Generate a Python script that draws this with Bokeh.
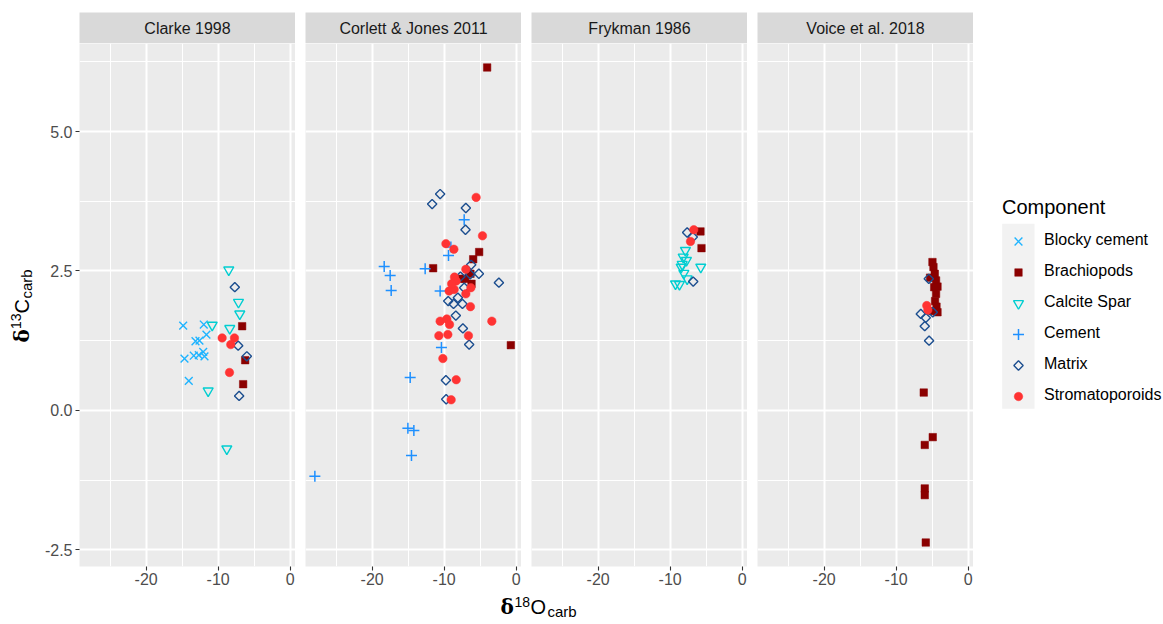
import numpy as np
from bokeh.plotting import figure
from bokeh.layouts import row, column
from bokeh.models import (Range1d, FixedTicker, Legend, LegendItem,
                          PrintfTickFormatter)
from bokeh.core.properties import value
from bokeh.embed import file_html
from bokeh.resources import INLINE

FONT = "Liberation Sans"

STUDIES = ["Clarke 1998", "Corlett & Jones 2011", "Frykman 1986", "Voice et al. 2018"]
COMPONENTS = ["Blocky cement", "Brachiopods", "Calcite Spar", "Cement", "Matrix", "Stromatoporoids"]

X_TICKS = [-20, -10, 0]
X_MINOR = [-25, -15, -5]
Y_TICKS = [-2.5, 0.0, 2.5, 5.0]
Y_MINOR = [-1.25, 1.25, 3.75, 6.25]

# ---- Clarke 1998 ----
clarke_blocky_o = [-14.86, -12.0, -11.63, -13.15, -12.6, -14.68, -13.39, -12.08, -12.69, -11.9, -14.08]
clarke_blocky_c = [1.52, 1.54, 1.36, 1.24, 1.25, 0.93, 0.98, 1.05, 0.99, 0.97, 0.53]
clarke_brach_o = [-6.67, -6.25, -6.53]
clarke_brach_c = [1.51, 0.90, 0.47]
clarke_spar_o = [-8.53, -7.18, -7.0, -10.83, -8.39, -11.39, -8.8]
clarke_spar_c = [2.52, 1.94, 1.73, 1.53, 1.47, 0.35, -0.69]
clarke_matrix_o = [-7.69, -7.22, -6.02, -7.09]
clarke_matrix_c = [2.21, 1.16, 0.97, 0.26]
clarke_strom_o = [-9.45, -7.74, -8.25, -8.43]
clarke_strom_c = [1.30, 1.30, 1.18, 0.68]

# ---- Corlett & Jones 2011 ----
corlett_brach_o = [-4.03, -5.14, -5.97, -11.53, -7.54, -6.2, -7.08, -6.35, -0.74]
corlett_brach_c = [6.15, 2.84, 2.71, 2.55, 2.36, 2.27, 2.36, 2.45, 1.17]
corlett_cement_o = [-7.22, -9.07, -9.4, -18.33, -17.5, -17.36, -12.64, -10.56, -10.38, -14.72, -15.04, -14.21, -14.54, -27.96]
corlett_cement_c = [3.42, 2.93, 2.78, 2.58, 2.42, 2.15, 2.54, 2.14, 1.13, 0.59, -0.32, -0.36, -0.81, -1.18]
corlett_matrix_o = [-10.56, -11.67, -6.99, -7.04, -6.25, -7.74, -6.39, -5.18, -2.4, -7.22, -8.1, -9.44, -8.7, -7.46, -8.38, -7.4, -6.53, -9.76, -9.72]
corlett_matrix_c = [3.88, 3.70, 3.63, 3.24, 2.61, 2.40, 2.44, 2.45, 2.29, 2.20, 2.02, 1.96, 1.91, 1.91, 1.70, 1.47, 1.18, 0.54, 0.20]
corlett_strom_o = [-5.56, -4.68, -9.76, -8.65, -6.99, -8.57, -8.33, -9.31, -8.61, -6.99, -6.29, -6.35, -10.56, -9.63, -9.26, -3.38, -10.74, -9.49, -6.63, -10.18, -8.33, -9.03, -8.96]
corlett_strom_c = [3.82, 3.13, 2.99, 2.89, 2.53, 2.39, 2.32, 2.14, 2.17, 2.09, 2.20, 1.86, 1.60, 1.64, 1.54, 1.60, 1.34, 1.36, 1.34, 0.93, 0.55, 0.19, 2.27]

# ---- Frykman 1986 ----
frykman_brach_o = [-5.79, -5.65]
frykman_brach_c = [3.21, 2.91]
frykman_spar_o = [-7.88, -8.19, -7.74, -8.33, -5.75, -8.1, -7.64, -9.26, -8.71, -8.47]
frykman_spar_c = [2.87, 2.75, 2.69, 2.62, 2.57, 2.46, 2.36, 2.27, 2.26, 2.57]
frykman_matrix_o = [-7.64, -6.86, -6.8]
frykman_matrix_c = [3.19, 3.11, 2.31]
frykman_strom_o = [-6.72, -7.18]
frykman_strom_c = [3.24, 3.03]

# ---- Voice et al. 2018 ----
voice_brach_o = [-4.96, -4.82, -4.64, -5.29, -4.46, -4.26, -4.72, -4.46, -4.6, -4.4, -4.26, -4.96, -6.17, -4.92, -6.03, -6.03, -6.03, -5.89]
voice_brach_c = [2.66, 2.57, 2.45, 2.38, 2.33, 2.22, 2.21, 2.09, 1.96, 1.86, 1.76, 1.78, 0.32, -0.48, -0.62, -1.40, -1.52, -2.37]
voice_matrix_o = [-5.47, -4.92, -6.58, -5.89, -6.03, -5.43]
voice_matrix_c = [2.36, 1.76, 1.73, 1.66, 1.51, 1.25]
voice_strom_o = [-5.75, -5.6]
voice_strom_c = [1.88, 1.80]

DATA = {
    "Clarke 1998": {
        "Blocky cement": (clarke_blocky_o, clarke_blocky_c),
        "Brachiopods": (clarke_brach_o, clarke_brach_c),
        "Calcite Spar": (clarke_spar_o, clarke_spar_c),
        "Matrix": (clarke_matrix_o, clarke_matrix_c),
        "Stromatoporoids": (clarke_strom_o, clarke_strom_c),
    },
    "Corlett & Jones 2011": {
        "Brachiopods": (corlett_brach_o, corlett_brach_c),
        "Cement": (corlett_cement_o, corlett_cement_c),
        "Matrix": (corlett_matrix_o, corlett_matrix_c),
        "Stromatoporoids": (corlett_strom_o, corlett_strom_c),
    },
    "Frykman 1986": {
        "Brachiopods": (frykman_brach_o, frykman_brach_c),
        "Calcite Spar": (frykman_spar_o, frykman_spar_c),
        "Matrix": (frykman_matrix_o, frykman_matrix_c),
        "Stromatoporoids": (frykman_strom_o, frykman_strom_c),
    },
    "Voice et al. 2018": {
        "Brachiopods": (voice_brach_o, voice_brach_c),
        "Matrix": (voice_matrix_o, voice_matrix_c),
        "Stromatoporoids": (voice_strom_o, voice_strom_c),
    },
}

STYLE = {
    "Blocky cement": dict(marker="x", size=11, line_color="#1FB4FF", line_width=1.4),
    "Brachiopods": dict(marker="square", size=7.5, fill_color="#8B0000", line_color="#8B0000", line_width=0.5),
    "Calcite Spar": dict(marker="inverted_triangle", size=10, fill_color=None, line_color="#00CED1", line_width=1.4),
    "Cement": dict(marker="cross", size=11, line_color="#1E90FF", line_width=1.5),
    "Matrix": dict(marker="square", angle=np.pi / 4, size=6.6, fill_color=None, line_color="#1C4E8F", line_width=1.4),
    "Stromatoporoids": dict(marker="circle", size=8.5, fill_color="#FF3333", line_color="#FF3333", line_width=0.5),
}

X_RANGE = (-29.26, 0.74)
Y_RANGE = (-2.80, 6.58)
FRAME_W, FRAME_H = 216, 523
GAP = 10


def style_axis_grid(p, with_y):
    p.xaxis.ticker = FixedTicker(ticks=X_TICKS, minor_ticks=X_MINOR)
    p.xgrid.ticker = FixedTicker(ticks=X_TICKS, minor_ticks=X_MINOR)
    p.ygrid.ticker = FixedTicker(ticks=Y_TICKS, minor_ticks=Y_MINOR)
    p.xaxis.formatter = PrintfTickFormatter(format="%d")
    axes = [p.xaxis[0]]
    if with_y:
        p.yaxis.ticker = FixedTicker(ticks=Y_TICKS, minor_ticks=Y_MINOR)
        p.yaxis.formatter = PrintfTickFormatter(format="%.1f")
        axes.append(p.yaxis[0])
    for ax in axes:
        ax.axis_line_color = None
        ax.major_tick_line_color = "#333333"
        ax.major_tick_line_width = 1.1
        ax.major_tick_out = 4
        ax.major_tick_in = 0
        ax.minor_tick_line_color = None
        ax.major_label_text_font = FONT
        ax.major_label_text_font_size = "16px"
        ax.major_label_text_color = "#4D4D4D"
        ax.major_label_standoff = 2
    if with_y:
        p.yaxis.major_label_standoff = 3
    for g in (p.xgrid[0], p.ygrid[0]):
        g.grid_line_color = "white"
        g.grid_line_width = 2
        g.minor_grid_line_color = "white"
        g.minor_grid_line_width = 1


columns = []
for i, study in enumerate(STUDIES):
    lb = 39 if i == 0 else GAP
    strip = figure(frame_width=FRAME_W, frame_height=31, x_range=Range1d(0, 1), y_range=Range1d(0, 1),
                   x_axis_type=None, y_axis_type=None, toolbar_location=None, output_backend="svg",
                   min_border_left=lb, min_border_right=0, min_border_top=12, min_border_bottom=0,
                   background_fill_color="#D9D9D9", border_fill_color="white")
    strip.outline_line_color = None
    strip.text(x=[0.5], y=[0.5], text=[study], text_align="center", text_baseline="middle",
               text_font=value(FONT), text_font_size="16px", text_color="#1A1A1A")

    p = figure(frame_width=FRAME_W, frame_height=FRAME_H,
               x_range=Range1d(*X_RANGE), y_range=Range1d(*Y_RANGE),
               y_axis_location="left" if i == 0 else None,
               toolbar_location=None, output_backend="svg",
               min_border_left=lb, min_border_right=0, min_border_top=0, min_border_bottom=25,
               background_fill_color="#EBEBEB", border_fill_color="white")
    p.outline_line_color = None
    style_axis_grid(p, i == 0)
    for comp in COMPONENTS:
        if comp in DATA[study]:
            xs, ys = DATA[study][comp]
            p.scatter(x=xs, y=ys, **STYLE[comp])
    columns.append(column(strip, p))

# y-axis title figure (coordinates = page pixels), text anchored at its middle line
ylab = figure(width=40, height=591, x_range=Range1d(0, 40), y_range=Range1d(591, 0),
              x_axis_type=None, y_axis_type=None, toolbar_location=None, output_backend="svg",
              min_border=0, border_fill_color="white", background_fill_color="white")
ylab.outline_line_color = None
ylab.text(x=[21.1], y=[342], text=["δ"], angle=np.pi / 2, text_font=value("DejaVu Serif"),
          text_font_style="bold", text_font_size="20px", text_baseline="middle", text_color="black")
ylab.text(x=[15.2], y=[328.5], text=["13"], angle=np.pi / 2, text_font=value(FONT),
          text_font_size="14px", text_baseline="middle", text_color="black")
ylab.text(x=[21.1], y=[313], text=["C"], angle=np.pi / 2, text_font=value(FONT),
          text_font_size="20px", text_baseline="middle", text_color="black")
ylab.text(x=[26.3], y=[298], text=["carb"], angle=np.pi / 2, text_font=value(FONT),
          text_font_size="15px", text_baseline="middle", text_color="black")

# legend figure (coordinates = page pixels)
LEGEND_KEY_X = 1018
LEGEND_KEY_Y = [241, 272, 303, 334, 365, 396]
leg = figure(width=190, height=591, x_range=Range1d(973, 1163), y_range=Range1d(591, 0),
             x_axis_type=None, y_axis_type=None, toolbar_location=None, output_backend="svg",
             min_border=0, border_fill_color="white", background_fill_color="white")
leg.outline_line_color = None
leg.quad(left=[1001.7], right=[1034], top=[223.3], bottom=[408.3], fill_color="#F2F2F2", line_color=None)
items = []
for comp, ky in zip(COMPONENTS, LEGEND_KEY_Y):
    r = leg.scatter(x=[LEGEND_KEY_X], y=[ky], **STYLE[comp])
    items.append(LegendItem(label=comp, renderers=[r]))
# glyph_height=0: the legend draws only labels; the keys above are drawn at full size
legend = Legend(items=items, location=(29, 187), title="Component",
                title_text_font=FONT, title_text_font_size="20px", title_text_color="black",
                title_text_font_style="normal", title_standoff=12,
                label_text_font=FONT, label_text_font_size="16px", label_text_color="black",
                label_standoff=10, glyph_width=32, glyph_height=0, label_height=18, spacing=13,
                padding=0, margin=0, border_line_color=None, background_fill_alpha=0)
leg.add_layout(legend)

top = row(ylab, *columns, leg)

# x-axis title figure (coordinates = page pixels), text anchored at its middle line
xlab = figure(width=1163, height=31, x_range=Range1d(0, 1163), y_range=Range1d(622, 591),
              x_axis_type=None, y_axis_type=None, toolbar_location=None, output_backend="svg",
              min_border=0, border_fill_color="white", background_fill_color="white")
xlab.outline_line_color = None
xlab.text(x=[500], y=[606.1], text=["δ"], text_font=value("DejaVu Serif"), text_font_style="bold",
          text_font_size="20px", text_baseline="middle", text_color="black")
xlab.text(x=[514], y=[601.2], text=["18"], text_font=value(FONT), text_font_size="14px",
          text_baseline="middle", text_color="black")
xlab.text(x=[530], y=[606.1], text=["O"], text_font=value(FONT), text_font_size="20px",
          text_baseline="middle", text_color="black")
xlab.text(x=[547], y=[610.8], text=["carb"], text_font=value(FONT), text_font_size="15px",
          text_baseline="middle", text_color="black")

layout = column(top, xlab)
open("out.html", "w").write(file_html(layout, INLINE))
